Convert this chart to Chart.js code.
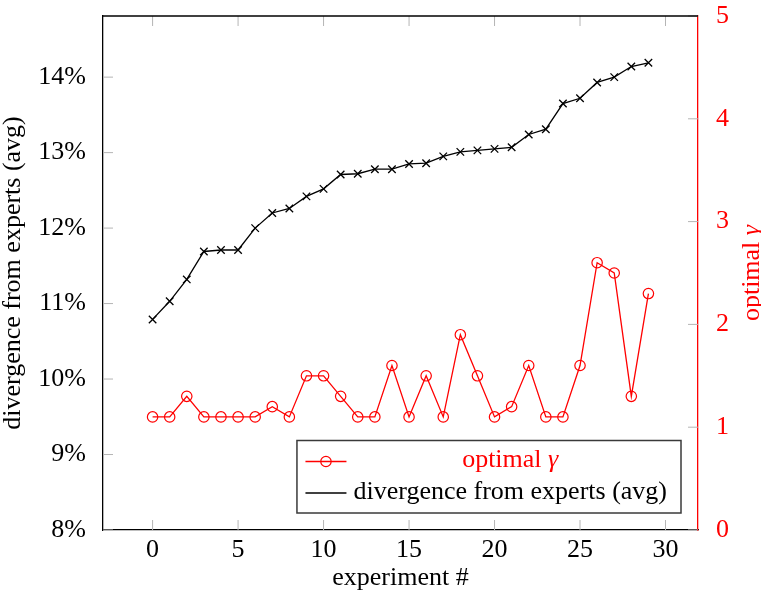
<!doctype html>
<html>

<head>
	<title>Optimal gamma vs divergence</title>
	<script src="https://cdn.jsdelivr.net/npm/chart.js@4/dist/chart.umd.min.js"></script>
	<style>
		body { margin: 0; background: #fff; }
	</style>
</head>

<body>
	<canvas id="chart-area" width="761" height="594"></canvas>
	<script>
		// experiment index, sorted by divergence
		var experiments = [0, 1, 2, 3, 4, 5, 6, 7, 8, 9, 10, 11, 12, 13, 14,
			15, 16, 17, 18, 19, 20, 21, 22, 23, 24, 25, 26, 27, 28, 29];
		// divergence from experts (avg), in percent
		var divergence = [10.79, 11.03, 11.32, 11.69, 11.71, 11.71, 12.00, 12.20, 12.26, 12.42,
			12.52, 12.71, 12.72, 12.78, 12.78, 12.85, 12.86, 12.95, 13.01, 13.03,
			13.05, 13.07, 13.24, 13.31, 13.65, 13.72, 13.93, 14.00, 14.14, 14.19];
		// optimal gamma per experiment
		var gamma = [1.1, 1.1, 1.3, 1.1, 1.1, 1.1, 1.1, 1.2, 1.1, 1.5,
			1.5, 1.3, 1.1, 1.1, 1.6, 1.1, 1.5, 1.1, 1.9, 1.5,
			1.1, 1.2, 1.6, 1.1, 1.1, 1.6, 2.6, 2.5, 1.3, 2.3];

		var xTicks = [0, 5, 10, 15, 20, 25, 30];

		var FONT = 'Liberation Serif';
		var RED = 'rgb(255,0,0)';
		Chart.defaults.font.family = FONT;
		Chart.defaults.font.size = 26;
		Chart.defaults.color = '#000';

		function line(ctx, x1, y1, x2, y2) {
			ctx.beginPath();
			ctx.moveTo(x1, y1);
			ctx.lineTo(x2, y2);
			ctx.stroke();
		}

		// widths of the two parts of "optimal γ" (gamma set in italic)
		function gammaText(ctx) {
			var a = 'optimal ', b = '\u03b3';
			ctx.font = '26px "' + FONT + '"';
			var wa = ctx.measureText(a).width;
			ctx.font = 'italic 26px "' + FONT + '"';
			var wb = ctx.measureText(b).width;
			return { a: a, b: b, wa: wa, wb: wb, w: wa + wb };
		}

		function drawGammaText(ctx, x, y, color) {
			var t = gammaText(ctx);
			ctx.fillStyle = color;
			ctx.textBaseline = 'alphabetic';
			ctx.textAlign = 'left';
			ctx.font = '26px "' + FONT + '"';
			ctx.fillText(t.a, x, y);
			ctx.font = 'italic 26px "' + FONT + '"';
			ctx.fillText(t.b, x + t.wa, y);
		}

		// fixed axis box sizes, no extra label padding
		function fixSize(w, h) {
			return function(scale) {
				if (w) scale.width = w;
				if (h) scale.height = h;
				scale.paddingTop = 0;
				scale.paddingBottom = 0;
				scale.paddingLeft = 0;
				scale.paddingRight = 0;
			};
		}

		// inner tick marks, top frame line and the right-hand title
		var framePlugin = {
			id: 'frame',
			beforeDatasetsDraw: function(chart) {
				var ctx = chart.ctx, a = chart.chartArea, s = chart.scales;
				ctx.save();
				ctx.strokeStyle = '#b5b5b5';
				ctx.lineWidth = 1;
				xTicks.forEach(function(v) {
					var px = s.x.getPixelForValue(v);
					line(ctx, px, a.bottom, px, a.bottom - 10);
					line(ctx, px, a.top, px, a.top + 10);
				});
				s.y.ticks.forEach(function(t) {
					var py = s.y.getPixelForValue(t.value);
					line(ctx, a.left, py, a.left + 10, py);
				});
				s.y1.ticks.forEach(function(t) {
					var py = s.y1.getPixelForValue(t.value);
					line(ctx, a.right, py, a.right - 10, py);
				});
				ctx.strokeStyle = '#000';
				ctx.lineWidth = 1.3;
				line(ctx, a.left, a.top, a.right, a.top);
				ctx.restore();
			},
			afterDraw: function(chart) {
				var ctx = chart.ctx, a = chart.chartArea;
				ctx.save();
				var t = gammaText(ctx);
				ctx.translate(750, (a.top + a.bottom) / 2);
				ctx.rotate(-Math.PI / 2);
				drawGammaText(ctx, -t.w / 2, 9, RED);
				ctx.restore();
			}
		};

		// boxed legend in the lower right of the plot
		var legendPlugin = {
			id: 'boxLegend',
			afterDraw: function(chart) {
				var ctx = chart.ctx, a = chart.chartArea;
				var dsGamma = chart.data.datasets[1], dsDiv = chart.data.datasets[0];
				ctx.save();
				ctx.font = '26px "' + FONT + '"';
				var wDiv = ctx.measureText(dsDiv.label).width;
				var wGam = gammaText(ctx).w;
				var textW = Math.max(wDiv, wGam);
				var right = a.right - 17, bottom = a.bottom - 17;
				var boxW = 8.5 + 41 + 7 + textW + 14, boxH = 72.5;
				var left = right - boxW, top = bottom - boxH;

				ctx.fillStyle = '#fff';
				ctx.fillRect(left, top, boxW, boxH);
				ctx.strokeStyle = '#3a3a3a';
				ctx.lineWidth = 1.5;
				ctx.strokeRect(left, top, boxW, boxH);

				var sx = left + 8.5, ex = sx + 41, tx = ex + 7;
				var r1 = top + 21, r2 = top + 52.5;

				// row 1: optimal gamma
				ctx.strokeStyle = dsGamma.borderColor;
				ctx.lineWidth = dsGamma.borderWidth;
				line(ctx, sx, r1, ex, r1);
				ctx.beginPath();
				ctx.arc((sx + ex) / 2, r1, dsGamma.pointRadius, 0, Math.PI * 2);
				ctx.lineWidth = dsGamma.pointBorderWidth;
				ctx.stroke();
				drawGammaText(ctx, tx + (textW - wGam) / 2, r1 + 5.5, dsGamma.borderColor);

				// row 2: divergence
				ctx.strokeStyle = dsDiv.borderColor;
				ctx.lineWidth = dsDiv.borderWidth;
				line(ctx, sx, r2, ex, r2);
				ctx.fillStyle = '#000';
				ctx.font = '26px "' + FONT + '"';
				ctx.textAlign = 'left';
				ctx.textBaseline = 'alphabetic';
				ctx.fillText(dsDiv.label, tx + (textW - wDiv) / 2, r2 + 6);
				ctx.restore();
			}
		};

		function points(ys) {
			return experiments.map(function(x, i) {
				return { x: x, y: ys[i] };
			});
		}

		var config = {
			type: 'line',
			data: {
				datasets: [{
					label: 'divergence from experts (avg)',
					data: points(divergence),
					yAxisID: 'y',
					borderColor: '#000',
					borderWidth: 1.3,
					pointStyle: 'crossRot',
					pointRadius: 5.3,
					pointBorderWidth: 1.3,
					pointBorderColor: '#000',
					tension: 0
				}, {
					label: 'optimal \u03b3',
					data: points(gamma),
					yAxisID: 'y1',
					borderColor: RED,
					borderWidth: 1.3,
					pointStyle: 'circle',
					pointRadius: 5.2,
					pointBorderWidth: 1.2,
					pointBorderColor: RED,
					pointBackgroundColor: 'rgba(0,0,0,0)',
					tension: 0
				}]
			},
			options: {
				responsive: false,
				animation: false,
				events: [],
				layout: { padding: { top: 16, left: 0, right: 0, bottom: 0 } },
				plugins: {
					legend: { display: false },
					tooltip: { enabled: false }
				},
				scales: {
					x: {
						type: 'linear',
						min: -2.9,
						max: 31.9,
						afterFit: fixSize(0, 64),
						afterBuildTicks: function(scale) {
							scale.ticks = xTicks.map(function(v) { return { value: v }; });
						},
						ticks: { padding: -3, font: { size: 26, lineHeight: 1.2 }, maxRotation: 0 },
						grid: { display: false },
						border: { display: true, color: '#000', width: 1.3 },
						title: {
							display: true,
							text: 'experiment #',
							font: { size: 26, lineHeight: 1 },
							padding: { top: 0, bottom: 2.5 }
						}
					},
					y: {
						position: 'left',
						min: 8,
						max: 14.81,
						afterFit: fixSize(103, 0),
						ticks: {
							stepSize: 1,
							includeBounds: false,
							padding: 9,
							callback: function(v) { return v + '%'; }
						},
						grid: { display: false },
						border: { display: true, color: '#000', width: 1.3 },
						title: {
							display: true,
							text: 'divergence from experts (avg)',
							font: { size: 26, lineHeight: 1 },
							padding: 0
						}
					},
					y1: {
						position: 'right',
						min: 0,
						max: 5,
						afterFit: fixSize(63, 0),
						ticks: { stepSize: 1, padding: 10, color: RED },
						grid: { display: false },
						border: { display: true, color: RED, width: 1.3 }
					}
				}
			},
			plugins: [framePlugin, legendPlugin]
		};

		window.onload = function() {
			var ctx = document.getElementById('chart-area').getContext('2d');
			window.myChart = new Chart(ctx, config);
		};
	</script>
</body>

</html>
